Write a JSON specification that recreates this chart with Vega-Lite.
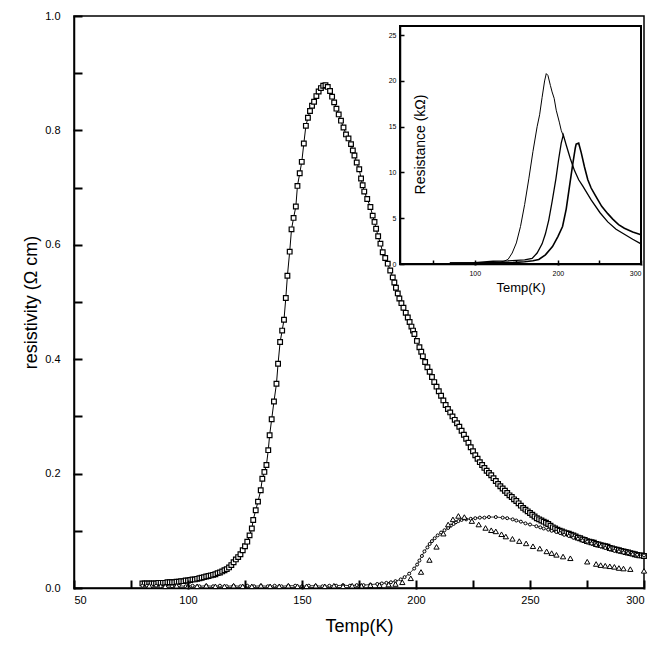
{
"$schema": "https://vega.github.io/schema/vega-lite/v6.json",
"width": 570, "height": 572,
"autosize": "none",
"padding": {"left": 74, "top": 16, "right": 9, "bottom": 67},
"background": "white",
"config": {
  "view": {"stroke": "black", "strokeWidth": 1.5},
  "axis": {"grid": false, "domainColor": "black", "domainWidth": 1.5, "tickColor": "black", "tickWidth": 2, "labelColor": "black", "titleColor": "black", "labelFont": "Liberation Sans", "titleFont": "Liberation Sans", "titleFontWeight": "normal"}
},
"datasets": {
"main": [{"T":80,"v":0.008},{"T":81,"v":0.008},{"T":82,"v":0.008},{"T":83,"v":0.008},{"T":84,"v":0.008},{"T":85,"v":0.008},{"T":86,"v":0.008},{"T":87,"v":0.009},{"T":88,"v":0.009},{"T":89,"v":0.009},{"T":90,"v":0.009},{"T":91,"v":0.010},{"T":92,"v":0.010},{"T":93,"v":0.010},{"T":94,"v":0.010},{"T":95,"v":0.011},{"T":96,"v":0.011},{"T":97,"v":0.012},{"T":98,"v":0.012},{"T":99,"v":0.013},{"T":100,"v":0.013},{"T":101,"v":0.014},{"T":102,"v":0.015},{"T":103,"v":0.015},{"T":104,"v":0.016},{"T":105,"v":0.017},{"T":106,"v":0.018},{"T":107,"v":0.019},{"T":108,"v":0.020},{"T":109,"v":0.021},{"T":110,"v":0.022},{"T":111,"v":0.023},{"T":112,"v":0.024},{"T":113,"v":0.026},{"T":114,"v":0.027},{"T":115,"v":0.029},{"T":116,"v":0.031},{"T":117,"v":0.033},{"T":118,"v":0.036},{"T":119,"v":0.040},{"T":120,"v":0.045},{"T":121,"v":0.050},{"T":122,"v":0.054},{"T":123,"v":0.059},{"T":124,"v":0.066},{"T":125,"v":0.073},{"T":126,"v":0.081},{"T":127,"v":0.092},{"T":128,"v":0.104},{"T":128.6,"v":0.119},{"T":129.7,"v":0.136},{"T":130.7,"v":0.151},{"T":131.9,"v":0.171},{"T":132.6,"v":0.191},{"T":133.5,"v":0.203},{"T":134.4,"v":0.215},{"T":135.2,"v":0.241},{"T":135.8,"v":0.267},{"T":136.7,"v":0.295},{"T":137.7,"v":0.326},{"T":138.8,"v":0.357},{"T":139.5,"v":0.392},{"T":140.4,"v":0.430},{"T":141.3,"v":0.450},{"T":142.1,"v":0.469},{"T":142.9,"v":0.507},{"T":143.6,"v":0.546},{"T":144.6,"v":0.588},{"T":145.4,"v":0.627},{"T":146.3,"v":0.647},{"T":147.3,"v":0.667},{"T":148.0,"v":0.703},{"T":149.0,"v":0.725},{"T":149.9,"v":0.745},{"T":150.8,"v":0.777},{"T":151.7,"v":0.808},{"T":152.6,"v":0.822},{"T":153.5,"v":0.834},{"T":154.4,"v":0.843},{"T":155.3,"v":0.850},{"T":156.3,"v":0.860},{"T":157.3,"v":0.868},{"T":158.3,"v":0.874},{"T":159.3,"v":0.878},{"T":160.3,"v":0.879},{"T":161.3,"v":0.876},{"T":162.3,"v":0.869},{"T":163.2,"v":0.859},{"T":164.1,"v":0.849},{"T":165.1,"v":0.838},{"T":166.1,"v":0.828},{"T":167.1,"v":0.817},{"T":168.2,"v":0.805},{"T":169.3,"v":0.793},{"T":170.4,"v":0.786},{"T":171.5,"v":0.776},{"T":172.3,"v":0.765},{"T":173.0,"v":0.756},{"T":174.0,"v":0.744},{"T":175.1,"v":0.732},{"T":175.9,"v":0.716},{"T":176.6,"v":0.704},{"T":177.3,"v":0.693},{"T":178.6,"v":0.680},{"T":180.0,"v":0.666},{"T":181.0,"v":0.651},{"T":181.8,"v":0.640},{"T":182.5,"v":0.628},{"T":183.4,"v":0.615},{"T":184.4,"v":0.602},{"T":185.4,"v":0.587},{"T":186.5,"v":0.577},{"T":187.6,"v":0.567},{"T":188.7,"v":0.555},{"T":189.8,"v":0.543},{"T":190.5,"v":0.534},{"T":191.2,"v":0.525},{"T":192.0,"v":0.515},{"T":192.7,"v":0.506},{"T":193.6,"v":0.498},{"T":194.5,"v":0.490},{"T":195.5,"v":0.481},{"T":196.4,"v":0.473},{"T":197.2,"v":0.465},{"T":198.0,"v":0.457},{"T":198.7,"v":0.450},{"T":199.3,"v":0.444},{"T":200.4,"v":0.432},{"T":201.5,"v":0.421},{"T":202.3,"v":0.413},{"T":203.0,"v":0.405},{"T":204.0,"v":0.395},{"T":205.0,"v":0.386},{"T":206.0,"v":0.378},{"T":207.0,"v":0.369},{"T":208.0,"v":0.360},{"T":209.0,"v":0.352},{"T":210.0,"v":0.344},{"T":211.0,"v":0.336},{"T":212.0,"v":0.328},{"T":213.0,"v":0.320},{"T":214.0,"v":0.313},{"T":215.0,"v":0.307},{"T":216.0,"v":0.300},{"T":217.0,"v":0.294},{"T":218.0,"v":0.288},{"T":219.0,"v":0.282},{"T":220.0,"v":0.275},{"T":221.0,"v":0.268},{"T":222.0,"v":0.261},{"T":223.0,"v":0.254},{"T":224.0,"v":0.246},{"T":225.0,"v":0.239},{"T":226.0,"v":0.232},{"T":227.0,"v":0.226},{"T":228.0,"v":0.220},{"T":229.0,"v":0.215},{"T":230.0,"v":0.210},{"T":231.0,"v":0.205},{"T":232.0,"v":0.201},{"T":233.0,"v":0.197},{"T":234.0,"v":0.192},{"T":235.0,"v":0.187},{"T":236.0,"v":0.182},{"T":237.0,"v":0.178},{"T":238.0,"v":0.174},{"T":239.0,"v":0.170},{"T":240.0,"v":0.166},{"T":241.0,"v":0.162},{"T":242.0,"v":0.159},{"T":243.0,"v":0.155},{"T":244.0,"v":0.152},{"T":245.0,"v":0.148},{"T":246.0,"v":0.144},{"T":247.0,"v":0.140},{"T":248.0,"v":0.137},{"T":249.0,"v":0.134},{"T":250.0,"v":0.131},{"T":251.0,"v":0.128},{"T":252.0,"v":0.125},{"T":253.0,"v":0.122},{"T":254.0,"v":0.120},{"T":255.0,"v":0.118},{"T":256.0,"v":0.116},{"T":257.0,"v":0.114},{"T":258.0,"v":0.112},{"T":259.0,"v":0.109},{"T":260.0,"v":0.106},{"T":261.0,"v":0.104},{"T":262.0,"v":0.102},{"T":263.0,"v":0.100},{"T":264.0,"v":0.099},{"T":265.0,"v":0.097},{"T":266.0,"v":0.096},{"T":267.0,"v":0.095},{"T":268.0,"v":0.093},{"T":269.0,"v":0.092},{"T":270.0,"v":0.090},{"T":271.0,"v":0.088},{"T":272.0,"v":0.087},{"T":273.0,"v":0.085},{"T":274.0,"v":0.084},{"T":275.0,"v":0.082},{"T":276.0,"v":0.081},{"T":277.0,"v":0.080},{"T":278.0,"v":0.079},{"T":279.0,"v":0.077},{"T":280.0,"v":0.076},{"T":281.0,"v":0.075},{"T":282.0,"v":0.074},{"T":283.0,"v":0.073},{"T":284.0,"v":0.072},{"T":285.0,"v":0.070},{"T":286.0,"v":0.069},{"T":287.0,"v":0.068},{"T":288.0,"v":0.067},{"T":289.0,"v":0.066},{"T":290.0,"v":0.065},{"T":291.0,"v":0.064},{"T":292.0,"v":0.063},{"T":293.0,"v":0.062},{"T":294.0,"v":0.061},{"T":295.0,"v":0.060},{"T":296.0,"v":0.059},{"T":297.0,"v":0.058},{"T":298.0,"v":0.057},{"T":299.0,"v":0.057},{"T":300.0,"v":0.056}],
"circ": [{"T":80,"v":0.004},{"T":82,"v":0.004},{"T":84,"v":0.003},{"T":86,"v":0.004},{"T":88,"v":0.003},{"T":90,"v":0.004},{"T":93,"v":0.003},{"T":96,"v":0.004},{"T":99,"v":0.003},{"T":102,"v":0.004},{"T":105,"v":0.003},{"T":108,"v":0.004},{"T":111,"v":0.003},{"T":114,"v":0.004},{"T":117,"v":0.003},{"T":120,"v":0.004},{"T":123,"v":0.003},{"T":126,"v":0.004},{"T":129,"v":0.003},{"T":132,"v":0.004},{"T":135,"v":0.003},{"T":138,"v":0.004},{"T":141,"v":0.003},{"T":144,"v":0.004},{"T":147,"v":0.004},{"T":150,"v":0.003},{"T":153,"v":0.004},{"T":156,"v":0.004},{"T":159,"v":0.003},{"T":162,"v":0.004},{"T":165,"v":0.004},{"T":168,"v":0.005},{"T":171,"v":0.004},{"T":174,"v":0.005},{"T":177,"v":0.005},{"T":180,"v":0.006},{"T":183,"v":0.007},{"T":185,"v":0.008},{"T":187,"v":0.009},{"T":189,"v":0.010},{"T":191,"v":0.012},{"T":193.3,"v":0.015},{"T":195,"v":0.019},{"T":197,"v":0.025},{"T":199.2,"v":0.034},{"T":200.5,"v":0.041},{"T":201.5,"v":0.048},{"T":202.6,"v":0.056},{"T":203.7,"v":0.064},{"T":205,"v":0.071},{"T":206,"v":0.077},{"T":207,"v":0.082},{"T":208.2,"v":0.087},{"T":209.5,"v":0.092},{"T":211,"v":0.097},{"T":212.5,"v":0.101},{"T":214.1,"v":0.105},{"T":215.3,"v":0.109},{"T":216.5,"v":0.112},{"T":217.5,"v":0.115},{"T":218.6,"v":0.117},{"T":220,"v":0.119},{"T":222,"v":0.120},{"T":224,"v":0.121},{"T":226,"v":0.122},{"T":228,"v":0.123},{"T":230,"v":0.123},{"T":232,"v":0.124},{"T":235,"v":0.124},{"T":238,"v":0.123},{"T":240,"v":0.122},{"T":242.4,"v":0.120},{"T":244,"v":0.118},{"T":246,"v":0.116},{"T":248,"v":0.113},{"T":250,"v":0.111},{"T":252.8,"v":0.108},{"T":254.5,"v":0.106},{"T":256,"v":0.104},{"T":258,"v":0.102},{"T":259.5,"v":0.100},{"T":261.5,"v":0.098},{"T":263.2,"v":0.096},{"T":265,"v":0.093},{"T":267,"v":0.091},{"T":269,"v":0.088},{"T":271,"v":0.086},{"T":273,"v":0.083},{"T":275.1,"v":0.081},{"T":277,"v":0.078},{"T":279,"v":0.075},{"T":281,"v":0.073},{"T":283,"v":0.070},{"T":285,"v":0.068},{"T":287,"v":0.065},{"T":289,"v":0.064},{"T":291,"v":0.062},{"T":293,"v":0.061},{"T":295,"v":0.059},{"T":297,"v":0.058},{"T":300,"v":0.057}],
"tri": [{"T":83,"v":0.004},{"T":90,"v":0.003},{"T":95,"v":0.004},{"T":100,"v":0.003},{"T":104,"v":0.003},{"T":108,"v":0.004},{"T":112,"v":0.003},{"T":116,"v":0.003},{"T":120,"v":0.004},{"T":124,"v":0.003},{"T":128,"v":0.003},{"T":132,"v":0.004},{"T":136,"v":0.003},{"T":140,"v":0.003},{"T":144,"v":0.004},{"T":148,"v":0.003},{"T":152,"v":0.003},{"T":156,"v":0.004},{"T":160,"v":0.003},{"T":164,"v":0.004},{"T":168,"v":0.003},{"T":172,"v":0.004},{"T":176,"v":0.004},{"T":180,"v":0.005},{"T":184,"v":0.005},{"T":188,"v":0.006},{"T":191,"v":0.007},{"T":194,"v":0.010},{"T":197.7,"v":0.017},{"T":202.2,"v":0.028},{"T":205.9,"v":0.049},{"T":209,"v":0.072},{"T":212,"v":0.095},{"T":214.1,"v":0.111},{"T":216.2,"v":0.120},{"T":218.6,"v":0.126},{"T":221.2,"v":0.124},{"T":224.5,"v":0.117},{"T":227.5,"v":0.111},{"T":230.5,"v":0.105},{"T":233,"v":0.101},{"T":235,"v":0.099},{"T":237.5,"v":0.094},{"T":239.4,"v":0.090},{"T":242.3,"v":0.086},{"T":245.3,"v":0.082},{"T":248.3,"v":0.078},{"T":251.3,"v":0.073},{"T":254.3,"v":0.069},{"T":257.3,"v":0.064},{"T":259.5,"v":0.061},{"T":261.6,"v":0.058},{"T":264.5,"v":0.055},{"T":267.7,"v":0.052},{"T":275.1,"v":0.046},{"T":279,"v":0.042},{"T":281,"v":0.040},{"T":283,"v":0.039},{"T":285,"v":0.038},{"T":287,"v":0.037},{"T":289,"v":0.035},{"T":291,"v":0.034},{"T":294,"v":0.033},{"T":300,"v":0.030}],
"inset": [
{"s":"A","T":70,"R":0.1},{"s":"A","T":80,"R":0.1},{"s":"A","T":90,"R":0.1},{"s":"A","T":100,"R":0.12},{"s":"A","T":110,"R":0.13},{"s":"A","T":120,"R":0.15},{"s":"A","T":130,"R":0.2},{"s":"A","T":135,"R":0.3},{"s":"A","T":140,"R":0.5},{"s":"A","T":145,"R":1.2},{"s":"A","T":150,"R":2.3},{"s":"A","T":155,"R":4.1},{"s":"A","T":160,"R":6.5},{"s":"A","T":165,"R":9.3},{"s":"A","T":170,"R":12.3},{"s":"A","T":175,"R":15},{"s":"A","T":178,"R":16.3},{"s":"A","T":181,"R":18.2},{"s":"A","T":184,"R":20},{"s":"A","T":186,"R":20.8},{"s":"A","T":188,"R":20.6},{"s":"A","T":191,"R":19.5},{"s":"A","T":193,"R":18.8},{"s":"A","T":195.5,"R":18.1},{"s":"A","T":198,"R":16.8},{"s":"A","T":201.7,"R":15.5},{"s":"A","T":204,"R":14.6},{"s":"A","T":206.5,"R":14.0},
{"s":"B","T":70,"R":0.1},{"s":"B","T":100,"R":0.15},{"s":"B","T":122,"R":0.3},{"s":"B","T":140,"R":0.35},{"s":"B","T":150,"R":0.4},{"s":"B","T":160,"R":0.45},{"s":"B","T":169,"R":0.6},{"s":"B","T":175,"R":1.2},{"s":"B","T":181,"R":2.2},{"s":"B","T":185,"R":3.3},{"s":"B","T":189,"R":4.8},{"s":"B","T":193,"R":6.8},{"s":"B","T":197.6,"R":9.3},{"s":"B","T":201,"R":11.5},{"s":"B","T":204,"R":13.2},{"s":"B","T":206.5,"R":14.1},{"s":"B","T":210,"R":13.0},{"s":"B","T":215,"R":11.5},{"s":"B","T":220,"R":10.2},{"s":"B","T":225,"R":9.2},{"s":"B","T":230,"R":8.5},{"s":"B","T":240,"R":7.0},{"s":"B","T":250.7,"R":5.6},{"s":"B","T":260,"R":4.6},{"s":"B","T":270,"R":3.8},{"s":"B","T":279,"R":3.3},{"s":"B","T":290,"R":2.7},{"s":"B","T":300,"R":2.2},
{"s":"C","T":70,"R":0.1},{"s":"C","T":100,"R":0.1},{"s":"C","T":146,"R":0.15},{"s":"C","T":160,"R":0.25},{"s":"C","T":170,"R":0.35},{"s":"C","T":177,"R":0.5},{"s":"C","T":185,"R":1.0},{"s":"C","T":193.5,"R":1.9},{"s":"C","T":200,"R":3.0},{"s":"C","T":205.6,"R":4.1},{"s":"C","T":210,"R":6.0},{"s":"C","T":214,"R":8.5},{"s":"C","T":218,"R":11},{"s":"C","T":221,"R":12.7},{"s":"C","T":222,"R":13.1},{"s":"C","T":225,"R":13.2},{"s":"C","T":228,"R":12.2},{"s":"C","T":232,"R":10.6},{"s":"C","T":236,"R":9.2},{"s":"C","T":240,"R":8.3},{"s":"C","T":245,"R":7.5},{"s":"C","T":252.7,"R":6.3},{"s":"C","T":260,"R":5.5},{"s":"C","T":266,"R":4.9},{"s":"C","T":273,"R":4.3},{"s":"C","T":280,"R":3.9},{"s":"C","T":290,"R":3.5},{"s":"C","T":300,"R":3.2}
]
},
"layer": [
  {
    "layer": [
      {"data": {"name": "main"}, "mark": {"type": "line", "color": "black", "strokeWidth": 1},
        "encoding": {
          "x": {"field": "T", "type": "quantitative", "scale": {"domain": [50, 300], "nice": false, "zero": false},
            "axis": {"orient": "bottom", "values": [50,100,150,200,250,300], "ticks": true, "tickSize": 1, "labelPadding": 5, "labelFontSize": 11, "title": "Temp(K)", "titleFontSize": 18, "titlePadding": 12}},
          "y": {"field": "v", "type": "quantitative", "scale": {"domain": [0, 1], "nice": false},
            "axis": {"orient": "left", "values": [0,0.2,0.4,0.6,0.8,1.0], "format": ".1f", "ticks": true, "tickSize": 1, "labelPadding": 13, "labelFontSize": 11, "title": "resistivity (Ω cm)", "titleFontSize": 18, "titlePadding": 4}}
        }},
      {"data": {"name": "main"}, "mark": {"type": "point", "shape": "square", "filled": true, "fill": "white", "stroke": "black", "strokeWidth": 1.2, "size": 22, "opacity": 1},
        "encoding": {
          "x": {"field": "T", "type": "quantitative",
            "axis": {"orient": "top", "offset": -572, "values": [50,75,100,125,150,175,200,225,250,275,300], "ticks": true, "tickSize": 8, "tickColor": "black", "tickWidth": 2, "labels": false, "domain": false, "title": null, "zindex": 2}},
          "y": {"field": "v", "type": "quantitative",
            "axis": {"orient": "right", "offset": -570, "values": [0,0.1,0.2,0.3,0.4,0.5,0.6,0.7,0.8,0.9,1.0], "ticks": true, "tickSize": 8, "tickColor": "black", "tickWidth": 2, "labels": false, "domain": false, "title": null, "zindex": 2}}
        }},
      {"data": {"name": "circ"}, "mark": {"type": "line", "color": "black", "strokeWidth": 0.8},
        "encoding": {"x": {"field": "T", "type": "quantitative", "axis": null}, "y": {"field": "v", "type": "quantitative", "axis": null}}},
      {"data": {"name": "circ"}, "mark": {"type": "point", "shape": "circle", "filled": true, "fill": "white", "stroke": "black", "strokeWidth": 1, "size": 9, "opacity": 1},
        "encoding": {"x": {"field": "T", "type": "quantitative", "axis": null}, "y": {"field": "v", "type": "quantitative", "axis": null}}},
      {"data": {"name": "tri"}, "mark": {"type": "point", "shape": "triangle-up", "filled": true, "fill": "white", "stroke": "black", "strokeWidth": 1, "size": 28, "opacity": 1},
        "encoding": {"x": {"field": "T", "type": "quantitative", "axis": null}, "y": {"field": "v", "type": "quantitative", "axis": null}}}
    ],
    "resolve": {"axis": {"x": "independent", "y": "independent"}}
  },
  {
    "layer": [
      {"data": {"values": [{}]}, "mark": {"type": "rect", "fill": "white", "stroke": "black", "strokeWidth": 2},
        "encoding": {
          "x": {"datum": 10, "type": "quantitative", "scale": {"domain": [10, 300], "range": [326, 567], "nice": false, "zero": false},
            "axis": {"orient": "bottom", "offset": -324, "values": [100, 200, 300], "ticks": true, "tickSize": 1, "labelPadding": 4, "labelFontSize": 7, "title": "Temp(K)", "titleFontSize": 13, "titlePadding": 5, "zindex": 3}},
          "x2": {"datum": 300},
          "y": {"datum": 0, "type": "quantitative", "scale": {"domain": [0, 26], "range": [248, 10], "nice": false},
            "axis": {"orient": "left", "offset": -326, "values": [0,5,10,15,20,25], "ticks": true, "tickSize": 1, "labelPadding": 3, "labelFontSize": 7, "title": "Resistance (kΩ)", "titleFontSize": 14, "titleX": 27, "titleY": 128, "zindex": 3}},
          "y2": {"datum": 26}
        }},
      {"data": {"name": "inset"}, "mark": {"type": "line", "color": "black"},
        "encoding": {
          "x": {"field": "T", "type": "quantitative",
            "axis": {"orient": "top", "offset": -248, "values": [50,100,150,200,250,300], "ticks": true, "tickSize": 4, "tickColor": "black", "tickWidth": 1.5, "labels": false, "domain": false, "title": null, "zindex": 3}},
          "y": {"field": "R", "type": "quantitative",
            "axis": {"orient": "right", "offset": -244, "values": [0,5,10,15,20,25], "ticks": true, "tickSize": 4, "tickColor": "black", "tickWidth": 1.5, "labels": false, "domain": false, "title": null, "zindex": 3}},
          "detail": {"field": "s"},
          "strokeWidth": {"field": "s", "type": "nominal", "scale": {"domain": ["A","B","C"], "range": [1, 1.6, 2.2]}, "legend": null}
        }}
    ],
    "resolve": {"axis": {"x": "independent", "y": "independent"}}
  }
],
"resolve": {"scale": {"x": "independent", "y": "independent"}, "axis": {"x": "independent", "y": "independent"}}
}
